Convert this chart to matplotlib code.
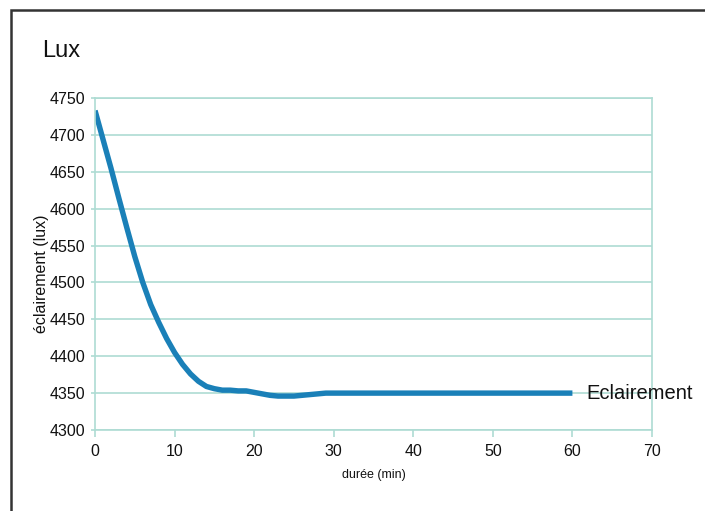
import numpy as np
import matplotlib.pyplot as plt
from matplotlib.patches import Rectangle

# durée (min) et éclairement (lux)
duree = [0, 1, 2, 3, 4, 5, 6, 7, 8, 9, 10, 11, 12, 13, 14, 15, 16, 17, 18, 19, 20,
         21, 22, 23, 24, 25, 26, 27, 28, 29, 30, 40, 50, 60]
eclairement = [4733, 4694, 4655, 4614, 4574, 4535, 4500, 4470, 4446, 4424, 4405, 4389,
               4376, 4366, 4359, 4356, 4354, 4354, 4353, 4353, 4351, 4349, 4347, 4346,
               4346, 4346, 4347, 4348, 4349, 4350, 4350, 4350, 4350, 4350]

x_ticks = [0, 10, 20, 30, 40, 50, 60, 70]
y_ticks = [4300, 4350, 4400, 4450, 4500, 4550, 4600, 4650, 4700, 4750]

police = 'Liberation Sans'
grid_col = '#aedcd3'
line_col = '#1a80b8'

fig = plt.figure(figsize=(7.05, 5.11), dpi=100)
ax = fig.add_axes([0.1348, 0.1585, 0.79, 0.6497])

ax.plot(duree, eclairement, color=line_col, lw=3.9, solid_capstyle='butt',
        solid_joinstyle='round')

ax.set_xlim(0, 70)
ax.set_ylim(4300, 4750)
ax.set_xticks(x_ticks)
ax.set_yticks(y_ticks)
ax.grid(axis='y', color=grid_col, lw=1.2)
for s in ax.spines.values():
    s.set_color(grid_col)
    s.set_linewidth(1.2)
ax.tick_params(axis='x', colors=grid_col, length=5, width=1.2, pad=5)
ax.tick_params(axis='y', colors=grid_col, length=3, width=1.2, pad=4)
for lab in ax.get_xticklabels() + ax.get_yticklabels():
    lab.set_color('#111111')
    lab.set_fontfamily(police)
    lab.set_fontsize(11.5)

ax.set_xlabel('durée (min)', fontfamily=police, fontsize=9, color='#111111', labelpad=7)
ax.set_ylabel('éclairement (lux)', fontfamily=police, fontsize=11.5, color='#111111')
ax.yaxis.set_label_coords(-0.083, 0.47)

ax.text(61.7, eclairement[-1], 'Eclairement', fontsize=14.5, fontfamily=police,
        color='#111111', va='center', ha='left', clip_on=False)

fig.text(42 / 705, 1 - 51 / 511, 'Lux', fontsize=17, fontfamily=police,
         color='#111111', va='center', ha='left')

fig.patches.append(Rectangle((11 / 705, -0.05), 1.1, 1 - 10 / 511 + 0.05,
                             transform=fig.transFigure, fill=False,
                             edgecolor='#333333', lw=1.8))

fig.savefig('out.png', dpi=100)
